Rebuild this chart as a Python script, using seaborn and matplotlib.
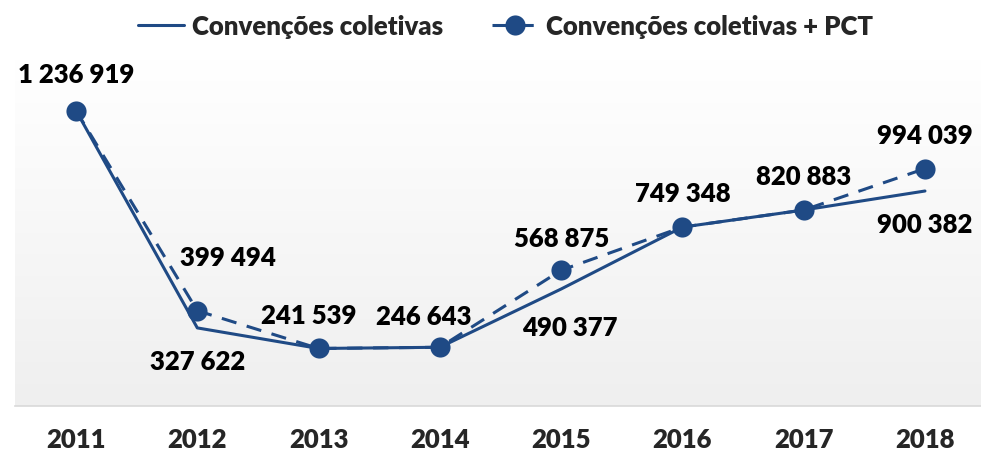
#!/usr/bin/env python3

import numpy as np
import pandas as pd
import seaborn as sns
from matplotlib import pyplot as plt
from matplotlib.colors import LinearSegmentedColormap

years = ['2011', '2012', '2013', '2014', '2015', '2016', '2017', '2018']
conv = [1236919, 327622, 241539, 246643, 490377, 749348, 820883, 900382]
conv_pct = [1236919, 399494, 241539, 246643, 568875, 749348, 820883, 994039]

label_conv = 'Convenções coletivas'
label_pct = 'Convenções coletivas + PCT'

# which value labels to draw, and where (offset in points from the point)
conv_labels = {1: (0, -24), 4: (6, -27), 7: (0, -24)}
pct_labels = {0: (0, 26), 1: (22, 39), 2: (-7, 24), 3: (-11.5, 22.5),
              4: (0, 23), 5: (0, 24.5), 6: (0, 24.5), 7: (0, 24)}


def fmt(v):
    return f'{v:,}'.replace(',', ' ')


def plot(out_file):
    df = pd.DataFrame({'x': range(len(years)), 'conv': conv, 'pct': conv_pct})

    sns.set_theme(style='white')
    plt.rcParams['font.family'] = ['Lato', 'DejaVu Sans']
    plt.rcParams['font.weight'] = 'heavy'

    color = '#1f4a85'
    fs = 18.5

    f = plt.figure(figsize=(9.81, 4.56), dpi=100)
    ax = f.add_axes([0.0157, 0.107, 0.989, 0.76])

    sns.lineplot(data=df, x='x', y='conv', color=color, linewidth=2.2,
                 label=label_conv, ax=ax, zorder=3)
    sns.lineplot(data=df, x='x', y='pct', color=color, linewidth=2.2,
                 linestyle=(0, (5, 3.5)), marker='o', markersize=14.5,
                 markeredgewidth=0, label=label_pct, ax=ax, zorder=4)

    ax.set_xlim(-0.5, 7.5)
    ax.set_ylim(0, 1450000)

    # soft vertical gradient in the plot area
    grad = np.linspace(0, 1, 256).reshape(-1, 1)
    cmap = LinearSegmentedColormap.from_list('g', ['#efefef', '#ffffff'])
    ax.imshow(grad, extent=(-0.5, 7.5, 0, 1450000), aspect='auto',
              cmap=cmap, vmin=0, vmax=1, zorder=0, origin='lower')

    for i, (dx, dy) in conv_labels.items():
        ax.annotate(fmt(conv[i]), (i, conv[i]), xytext=(dx, dy),
                    textcoords='offset points', ha='center', va='center',
                    fontsize=fs, fontweight='heavy', color='black')
    for i, (dx, dy) in pct_labels.items():
        ax.annotate(fmt(conv_pct[i]), (i, conv_pct[i]), xytext=(dx, dy),
                    textcoords='offset points', ha='center', va='center',
                    fontsize=fs, fontweight='heavy', color='black')

    ax.set_xticks(range(len(years)))
    ax.set_xticklabels(years, fontsize=fs, fontweight='heavy')
    ax.tick_params(axis='x', length=0, pad=15)
    ax.set_yticks([])
    ax.set_xlabel('')
    ax.set_ylabel('')
    for s in ['top', 'left', 'right']:
        ax.spines[s].set_visible(False)
    ax.spines['bottom'].set_color('#d9d9d9')
    ax.spines['bottom'].set_linewidth(1.2)

    leg = ax.legend(loc='center', bbox_to_anchor=(0.505, 1.098), ncol=2,
                    frameon=False, fontsize=fs, handlelength=1.8,
                    handletextpad=0.3, columnspacing=1.9)
    for t in leg.get_texts():
        t.set_fontweight('heavy')

    f.savefig(out_file, dpi=100)


if __name__ == '__main__':
    plot('out.png')
